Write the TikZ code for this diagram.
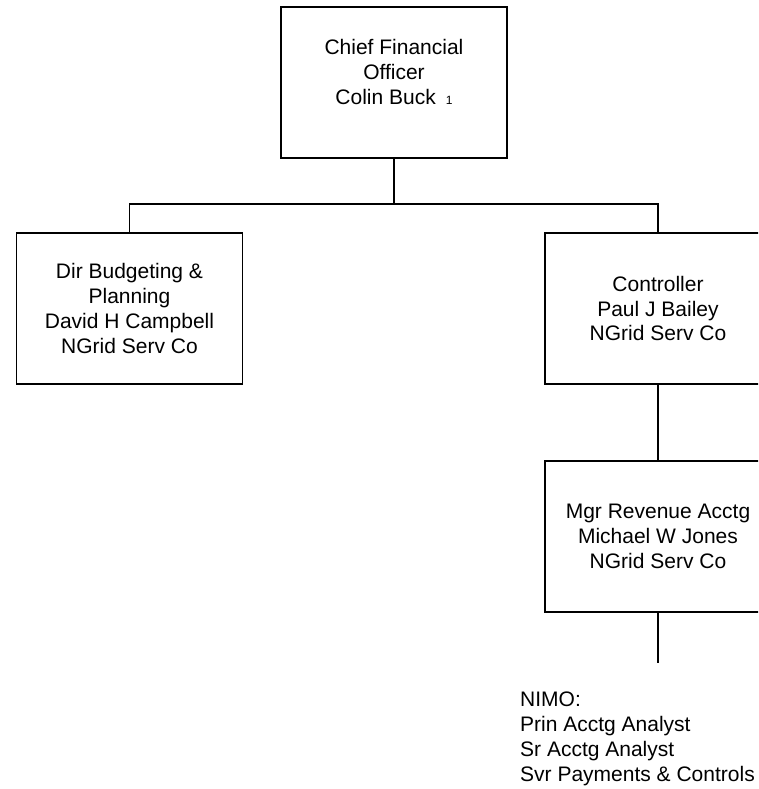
\documentclass[tikz,border=0pt]{standalone}
\usepackage{fontspec}
\setmainfont{Liberation Sans}
\begin{document}
\begin{tikzpicture}[x=1pt,y=-1pt,
  posbox/.style={draw, line width=1.2pt, minimum width=226pt, minimum height=151pt, inner sep=0pt, align=center, font=\fontsize{21}{24.8}\selectfont},
  boxtext/.style={inner sep=0pt, align=center, font=\fontsize{21}{24.8}\selectfont},
  link/.style={line width=1.4pt},
  stem/.style={line width=2pt}]
\useasboundingbox (0,0) rectangle (758,789);
\clip (0,0) rectangle (758,789);
\node[posbox] (cfo) at (394,82.5) {};
\node[boxtext] (cfotext) at (394,72) {Chief Financial\\Officer\\Colin Buck\hspace{10pt}{\fontsize{12}{14}\selectfont 1}};
\node[posbox] (dir) at (129.5,308.5) {Dir Budgeting \&\\Planning\\David H Campbell\\NGrid Serv Co};
\node[posbox] (ctrl) at (658,308.5) {Controller\\Paul J Bailey\\NGrid Serv Co};
\node[posbox] (mgr) at (658,536.5) {Mgr Revenue Acctg\\Michael W Jones\\NGrid Serv Co};
\coordinate (j) at (394,204);
\coordinate (mgrend) at (658,663);
\draw[stem] (cfo.south) -- (j);
\draw[link] (dir.north) |- (j) -| (ctrl.north);
\draw[link] (ctrl.south) -- (mgr.north);
\draw[link] (mgr.south) -- (mgrend);
\node[anchor=base west, inner sep=0pt, align=left, font=\fontsize{21}{24.7}\selectfont] (nimo) at (520,781) {NIMO:\\Prin Acctg Analyst\\Sr Acctg Analyst\\Svr Payments \& Controls};
\end{tikzpicture}
\end{document}
